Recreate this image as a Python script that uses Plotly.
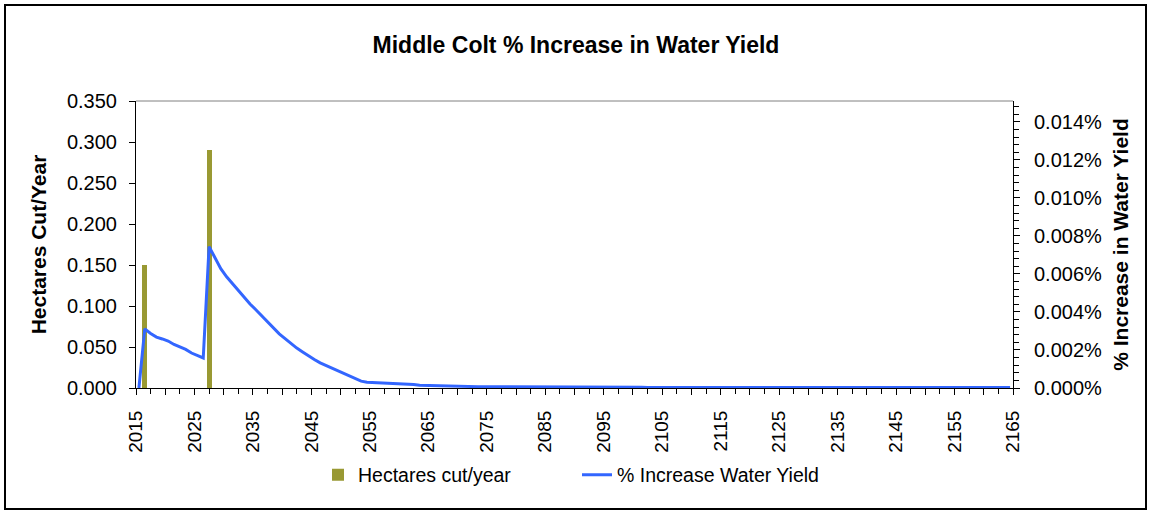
import plotly.graph_objects as go

# ---------------- data ----------------
years = list(range(2015, 2165))  # category years (150)

bar_years = [2016, 2027]
hectares_cut = [0.150, 0.290]

water_yield_pct = [
    # 2015-2026
    0.0, 0.00311, 0.00287, 0.00268, 0.00258, 0.00247, 0.00229, 0.00217, 0.00203, 0.00184, 0.00171, 0.00158,
    # 2027-2036
    0.00744, 0.00685, 0.00628, 0.00585, 0.00548, 0.00510, 0.00475, 0.00442, 0.00412, 0.00380,
    # 2037-2046
    0.00348, 0.00316, 0.00285, 0.00260, 0.00233, 0.00210, 0.00190, 0.00168, 0.00150, 0.00132,
    # 2047-2056
    0.00118, 0.00103, 0.00090, 0.00078, 0.00063, 0.00050, 0.00036, 0.00030, 0.00029, 0.00028,
    # 2057-2066
    0.00027, 0.00026, 0.00022, 0.00021, 0.00020, 0.00019, 0.00015, 0.00014, 0.00014, 0.00013,
    # 2067-2076
    0.00013, 0.00012, 0.00008, 0.00008, 0.00007, 0.00007, 0.00007, 0.00007, 0.00007, 0.00007,
    # 2077-2086
    0.00007, 0.00007, 0.00007, 0.00007, 0.00006, 0.00006, 0.00006, 0.00006, 0.00006, 0.00005,
    # 2087-2096
    0.00005, 0.00005, 0.00005, 0.00005, 0.00005, 0.00005, 0.00005, 0.00004, 0.00004, 0.00004,
    # 2097-2106
    0.00004, 0.00004, 0.00004, 0.00004, 0.00004, 0.00003, 0.00003, 0.00003, 0.00003, 0.00003,
    # 2107-2116
    0.00003, 0.00003, 0.00003, 0.00003, 0.00003, 0.00003, 0.00003, 0.00003, 0.00003, 0.00003,
    # 2117-2126
    0.00003, 0.00002, 0.00002, 0.00002, 0.00002, 0.00002, 0.00002, 0.00002, 0.00002, 0.00002,
    # 2127-2136
    0.00002, 0.00002, 0.00002, 0.00002, 0.00002, 0.00002, 0.00002, 0.00002, 0.00002, 0.00002,
    # 2137-2146
    0.00002, 0.00002, 0.00002, 0.00002, 0.00002, 0.00002, 0.00002, 0.00002, 0.00002, 0.00002,
    # 2147-2156
    0.00002, 0.00002, 0.00002, 0.00002, 0.00002, 0.00002, 0.00002, 0.00002, 0.00002, 0.00002,
    # 2157-2164
    0.00002, 0.00002, 0.00002, 0.00002, 0.00002, 0.00002, 0.00002, 0.00002,
]
assert len(water_yield_pct) == len(years)

tick_label_years = list(range(2015, 2166, 10))
tick_mark_years = list(range(2015, 2166, 5))

title_text = "Middle Colt % Increase in Water Yield"
left_title = "Hectares Cut/Year"
right_title = "% Increase in Water Yield"
bar_name = "Hectares cut/year"
line_name = "% Increase Water Yield"

# ---------------- style ----------------
FONT = "Liberation Sans, Arial, sans-serif"
BAR_COLOR = "#999933"
LINE_COLOR = "#3366FF"
W, H = 1151, 514
L, R, T, B = 136, 138, 101, 126
PW, PH = W - L - R, H - T - B

def px_x(px):
    return (px - L) / PW

def px_y(py):
    return (H - B - py) / PH

# category boundaries (Excel-like: labels/ticks between categories)
tickvals = [y - 0.5 for y in tick_mark_years]
ticktext = [str(y) if y in tick_label_years else "" for y in tick_mark_years]

fig = go.Figure()
fig.add_trace(go.Bar(
    x=bar_years, y=hectares_cut, name=bar_name,
    marker=dict(color=BAR_COLOR, line=dict(width=0)), width=0.85,
    yaxis="y", xaxis="x",
))
fig.add_trace(go.Scatter(
    x=years, y=water_yield_pct, name=line_name, mode="lines",
    line=dict(color=LINE_COLOR, width=3), yaxis="y2", xaxis="x",
))

xrange_ = [years[0] - 0.5, years[-1] + 0.5]
yr2 = [0, 0.0151]

fig.update_layout(
    width=W, height=H,
    margin=dict(l=L, r=R, t=T, b=B),
    paper_bgcolor="white", plot_bgcolor="white",
    font=dict(family=FONT, size=19, color="black"),
    showlegend=True,
    bargap=0,
    title=dict(text="<b>" + title_text + "</b>", x=px_x(576), xref="paper",
               y=1 - 45 / H, yref="container", xanchor="center", yanchor="middle",
               font=dict(family=FONT, size=23, color="black")),
    xaxis=dict(
        range=xrange_, showgrid=False, zeroline=False,
        showline=True, linecolor="black", linewidth=1,
        tickmode="array", tickvals=tickvals, ticktext=ticktext,
        ticks="outside", ticklen=6, tickcolor="black", tickwidth=1,
        tickangle=-90, tickfont=dict(size=19), ticklabelstandoff=8,
        minor=dict(tick0=2017, dtick=5, ticks="outside", ticklen=5, tickcolor="black"),
    ),
    xaxis2=dict(
        range=xrange_, overlaying="x", anchor="y", showgrid=False, zeroline=False,
        showline=False, showticklabels=False,
        tickmode="array", tickvals=tickvals,
        ticks="inside", ticklen=6, tickcolor="black", tickwidth=1,
    ),
    yaxis=dict(
        range=[0, 0.35], dtick=0.05, tick0=0, tickformat=".3f",
        showgrid=False, zeroline=False, showline=True, linecolor="black", linewidth=1,
        ticks="outside", ticklen=6, tickcolor="black", tickfont=dict(size=20),
        ticklabelstandoff=8,
        title=dict(text="<b>" + left_title + "</b>", font=dict(size=21), standoff=14),
    ),
    yaxis2=dict(
        range=yr2, overlaying="y", side="right", anchor="x",
        dtick=0.002, tick0=0, tickformat=".3f", ticksuffix="%",
        showgrid=False, zeroline=False, showline=True, linecolor="black", linewidth=1,
        ticks="outside", ticklen=6, tickcolor="black", tickfont=dict(size=20),
        ticklabelstandoff=10,
        minor=dict(dtick=0.0004, tick0=0, ticks="outside", ticklen=5, tickcolor="black"),
        title=dict(text="<b>" + right_title + "</b>", font=dict(size=21), standoff=12),
    ),
    yaxis3=dict(
        range=yr2, overlaying="y", side="right", anchor="x",
        dtick=0.002, tick0=0, showticklabels=False,
        showgrid=False, zeroline=False, showline=False,
        ticks="inside", ticklen=6, tickcolor="black",
        minor=dict(dtick=0.0004, tick0=0, ticks="inside", ticklen=5, tickcolor="black"),
    ),
    legend=dict(
        orientation="h", x=px_x(318), y=px_y(475), xanchor="left", yanchor="middle",
        xref="paper", yref="paper",
        font=dict(size=19.5), entrywidth=214, entrywidthmode="pixels",
        bgcolor="rgba(0,0,0,0)", borderwidth=0,
    ),
    shapes=[
        dict(type="line", xref="paper", yref="paper", x0=0, x1=1, y0=1, y1=1,
             line=dict(color="#808080", width=1)),
        dict(type="rect", xref="paper", yref="paper",
             x0=px_x(5), x1=px_x(1146), y0=px_y(509), y1=px_y(5),
             line=dict(color="black", width=2), fillcolor="rgba(0,0,0,0)", layer="above"),
    ],
)

fig.write_html("out.html", config={"displayModeBar": False},
               post_script="document.body.style.margin='0';")
